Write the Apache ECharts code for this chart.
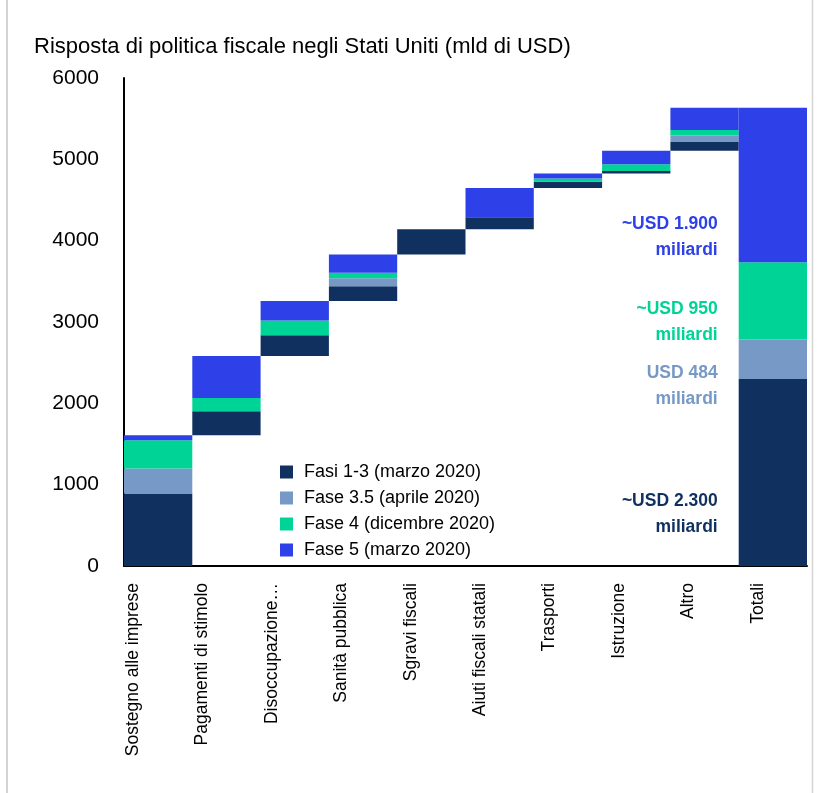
<!DOCTYPE html>
<html>
<head>
<meta charset="utf-8">
<script src="https://cdn.jsdelivr.net/npm/echarts@6/dist/echarts.min.js"></script>
<style>
  html, body { margin: 0; padding: 0; background: #fff; }
  #chart { width: 817px; height: 793px; }
</style>
</head>
<body>
<div id="chart"></div>
<script>
// Categories of the US fiscal response (bn USD) and the closing total column
const categories = ['Sostegno alle imprese', 'Pagamenti di stimolo', 'Disoccupazione…', 'Sanità pubblica',
  'Sgravi fiscali', 'Aiuti fiscali statali', 'Trasporti', 'Istruzione', 'Altro'];
const totalCategory = 'Totali';

// Amount per category for each relief package
const fasi13 = [890, 295, 255, 180, 310, 150, 75, 30, 115];
const fase35 = [310, 0, 0, 100, 0, 0, 0, 0, 74];
const fase4  = [345, 165, 180, 68, 0, 0, 40, 84, 68];
const fase5  = [62, 515, 242, 222, 0, 360, 62, 165, 272];

const phaseNames = ['Fasi 1-3 (marzo 2020)', 'Fase 3.5 (aprile 2020)', 'Fase 4 (dicembre 2020)', 'Fase 5 (marzo 2020)'];
const totalPrefixes = ['~', '', '~', '~'];

// Y axis ticks
const yMin = 0, yMax = 6000, yStep = 1000;

const FONT = "'Liberation Sans', Arial, sans-serif";
const colors = ['#10315f', '#7699c6', '#00d396', '#2e41e8'];
const labelShift = [42, 27, 21, 52];

const phases = [fasi13, fase35, fase4, fase5];
const allCats = categories.concat([totalCategory]);

// Floating base of the waterfall: running total of previous columns
const base = [];
let run = 0;
for (let i = 0; i < categories.length; i++) {
  base.push(run);
  run += phases.reduce((s, p) => s + p[i], 0);
}
base.push(0);

const totals = phases.map(p => p.reduce((s, v) => s + v, 0));
const fmt = v => String(v).replace(/\B(?=(\d{3})+(?!\d))/g, '.');

const series = [{
  name: '_base',
  type: 'bar',
  stack: 'w',
  silent: true,
  itemStyle: { color: 'transparent' },
  data: base,
  barCategoryGap: 0
}];

phases.forEach((p, k) => {
  const data = p.map(v => (v === 0 ? '-' : v));
  data.push({
    value: totals[k],
    label: {
      show: true,
      position: 'left',
      distance: 21,
      offset: [0, labelShift[k]],
      align: 'right',
      verticalAlign: 'middle',
      color: colors[k],
      fontFamily: FONT,
      fontWeight: 'bold',
      fontSize: 17.5,
      lineHeight: 26,
      formatter: () => totalPrefixes[k] + 'USD ' + fmt(totals[k]) + '\nmiliardi'
    }
  });
  series.push({
    name: phaseNames[k],
    type: 'bar',
    stack: 'w',
    barCategoryGap: 0,
    itemStyle: { color: colors[k] },
    data: data
  });
});

// Rotated tick labels sit slightly left of each column
const n = allCats.length;
const rich = {};
allCats.forEach((c, i) => {
  const s = 25 - i * 10 / (n - 1);
  rich['c' + i] = { fontFamily: FONT, fontSize: 17.5, color: '#000', padding: [0, 0, Math.round(2 * s), 0] };
});

const chart = echarts.init(document.getElementById('chart'), null, { renderer: 'canvas' });
chart.setOption({
  animation: false,
  backgroundColor: '#ffffff',
  title: {
    text: 'Risposta di politica fiscale negli Stati Uniti (mld di USD)',
    left: 34,
    top: 36,
    padding: 0,
    textStyle: { fontFamily: FONT, fontSize: 22, fontWeight: 'normal', color: '#000' }
  },
  legend: {
    data: phaseNames,
    orient: 'vertical',
    left: 280,
    top: 463,
    padding: 0,
    itemWidth: 13,
    itemHeight: 13,
    itemGap: 8,
    icon: 'rect',
    textStyle: { fontFamily: FONT, fontSize: 18, color: '#000', lineHeight: 18, padding: [0, 0, 0, 6] }
  },
  grid: { left: 124, right: 10, top: 78, bottom: 227, containLabel: false },
  xAxis: {
    type: 'category',
    data: allCats,
    axisLine: { show: true, lineStyle: { color: '#000', width: 2 } },
    axisTick: { show: false },
    axisLabel: {
      interval: 0, rotate: 90, margin: 17, fontFamily: FONT, fontSize: 17.5, color: '#000',
      formatter: (v, i) => '{c' + i + '|' + v + '}',
      rich: rich
    }
  },
  yAxis: {
    type: 'value',
    min: yMin,
    max: yMax,
    interval: yStep,
    splitLine: { show: false },
    axisTick: { show: false },
    axisLine: { show: true, lineStyle: { color: '#000', width: 2 } },
    axisLabel: { margin: 25, fontFamily: FONT, fontSize: 21, color: '#000', formatter: v => String(v) }
  },
  graphic: [
    { type: 'line', shape: { x1: 7, y1: 0, x2: 7, y2: 793 }, style: { stroke: '#c4c4c4', lineWidth: 1.5 } },
    { type: 'line', shape: { x1: 812.5, y1: 0, x2: 812.5, y2: 793 }, style: { stroke: '#d4d4d4', lineWidth: 1.5 } }
  ],
  series: series
});
</script>
</body>
</html>
